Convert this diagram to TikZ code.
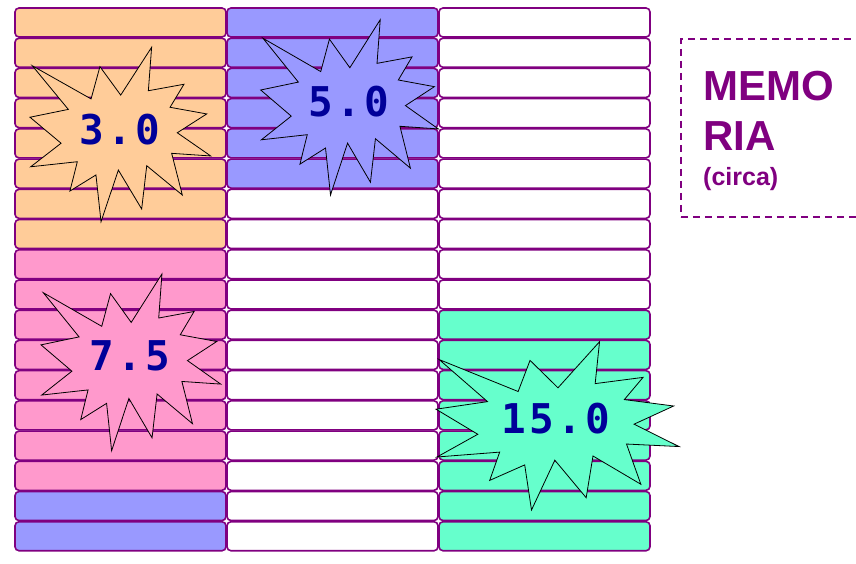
\documentclass[tikz,border=0pt]{standalone}
\usepackage{fontspec}
\setsansfont{Liberation Sans}
\setmonofont{DejaVu Sans Mono}
\definecolor{peach}{HTML}{FFCC99}
\definecolor{lilac}{HTML}{9999FF}
\definecolor{pinkish}{HTML}{FF99CC}
\definecolor{mint}{HTML}{66FFCC}
\definecolor{plum}{HTML}{800080}
\definecolor{navy}{HTML}{000099}
\newcommand{\smallmemo}{\fontsize{25}{50}\selectfont}
\tikzset{
  cellbox/.style={
    rectangle, draw=plum, fill=#1, line width=1.6pt,
    rounded corners=4pt, minimum width=211pt, minimum height=29pt,
    inner sep=0pt
  },
  cellbox/.default=white,
  burst/.style={draw=black, fill=#1, line width=0.8pt},
  burstlabel/.style={
    text=navy, inner sep=0pt,
    font=\ttfamily\bfseries\fontsize{41}{41}\selectfont\addfontfeature{LetterSpace=8}
  },
  memobox/.style={
    rectangle, draw=plum, dash pattern=on 7pt off 5pt, line width=1.6pt,
    minimum width=200pt, minimum height=178pt, inner sep=0pt
  },
  explosion/.pic={
    \draw[pic actions] (0.673,0) -- (0.655,0.249) -- (0.852,0.212)
      -- (0.775,0.344) -- (0.978,0.382) -- (0.815,0.490) -- (1.0,0.623)
      -- (0.784,0.608) -- (0.843,0.847) -- (0.646,0.679) -- (0.618,0.927)
      -- (0.489,0.704) -- (0.393,1.0) -- (0.365,0.732) -- (0.221,0.824)
      -- (0.262,0.656) -- (0.004,0.685) -- (0.172,0.550) -- (0,0.401)
      -- (0.212,0.356) -- (0.013,0.106) -- (0.338,0.296) -- (0.387,0.111)
      -- (0.502,0.274) -- cycle;
  },
}

\begin{document}
\begin{tikzpicture}[x=1pt, y=-1pt]
  \useasboundingbox (0,0) rectangle (856,563);
  % first column
  \foreach \r in {0,...,7}
    \node[cellbox=peach] (a\r) at (120.5,{22.5+30.22*\r}) {};
  \foreach \r in {8,...,15}
    \node[cellbox=pinkish] (a\r) at (120.5,{22.5+30.22*\r}) {};
  \foreach \r in {16,17}
    \node[cellbox=lilac] (a\r) at (120.5,{22.5+30.22*\r}) {};
  % second column
  \foreach \r in {0,...,5}
    \node[cellbox=lilac] (b\r) at (332.5,{22.5+30.22*\r}) {};
  \foreach \r in {6,...,17}
    \node[cellbox] (b\r) at (332.5,{22.5+30.22*\r}) {};
  % third column
  \foreach \r in {0,...,9}
    \node[cellbox] (c\r) at (544.5,{22.5+30.22*\r}) {};
  \foreach \r in {10,...,17}
    \node[cellbox=mint] (c\r) at (544.5,{22.5+30.22*\r}) {};

  % explosions
  \pic[burst=peach, shift={(30,47.3)}, xscale=180.7, yscale=174.4] {explosion};
  \pic[burst=lilac, shift={(260.7,19.7)}, xscale=177.6, yscale=175.3] {explosion};
  \pic[burst=pinkish, shift={(41,274)}, xscale=179.7, yscale=176.7] {explosion};
  \pic[burst=mint, shift={(436,341.7)}, xscale=243, yscale=168.3] {explosion};
  \node[burstlabel] (l3) at (120,130) {3.0};
  \node[burstlabel] (l5) at (349,101.5) {5.0};
  \node[burstlabel] (l7) at (130,355.5) {7.5};
  \node[burstlabel] (l15) at (556,419) {15.0};

  % memory label
  \node[memobox, anchor=north west] (mem) at (680,38) {};
  \node[anchor=north west, align=left, text=plum, inner sep=0pt,
        font=\sffamily\bfseries\fontsize{42}{50}\selectfont] (memtxt) at (703,71)
    {MEMO\\RIA\\[-15pt]\smallmemo (circa)};
\end{tikzpicture}
\end{document}
